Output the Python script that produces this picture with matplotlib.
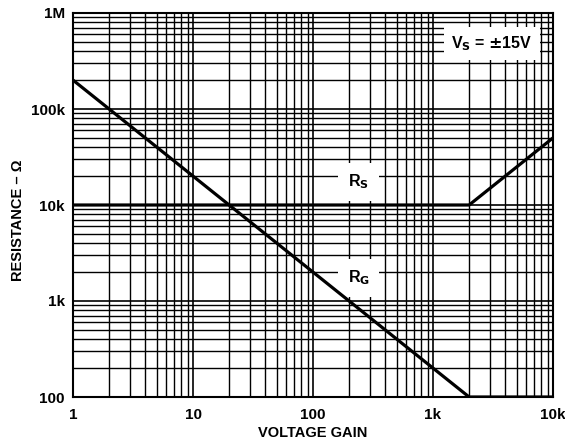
import numpy as np
import matplotlib
matplotlib.use('Agg')
from matplotlib import pyplot as plt

plt.rcParams['font.family'] = ['Liberation Sans', 'DejaVu Sans']
plt.rcParams['font.weight'] = 'bold'

# R_G vs gain: falls as 200k/G down to 100 ohm at G=2000, then flat
gain_rg = [1, 2000, 10000]
res_rg = [200e3, 100, 100]
# R_S vs gain: flat 10k up to G=2000, then rises to 50k
gain_rs = [1, 2000, 10000]
res_rs = [10e3, 10e3, 50e3]

xticks = [1, 10, 100, 1000, 10000]
xlabels = ['1', '10', '100', '1k', '10k']
yticks = [100, 1000, 10000, 100000, 1000000]
ylabels = ['100', '1k', '10k', '100k', '1M']

fig = plt.figure(figsize=(5.65, 4.4), dpi=100)
ax = fig.add_axes([73/565, 43/440, 480/565, 384/440])
ax.set_xscale('log')
ax.set_yscale('log')
ax.set_xlim(1, 10000)
ax.set_ylim(100, 1e6)

ax.grid(True, which='major', color='black', linewidth=1.2)
ax.grid(True, which='minor', color='black', linewidth=1.0)
ax.set_axisbelow(True)

ax.plot(gain_rg, res_rg, color='black', linewidth=2.3, solid_capstyle='butt', zorder=5)
ax.plot(gain_rs, res_rs, color='black', linewidth=2.3, solid_capstyle='butt', zorder=5)

box = dict(facecolor='white', edgecolor='none', pad=7)
ax.text(240, 17.5e3, r'R$_\mathbf{S}$', ha='center', va='center', fontsize=11.5, bbox=box, zorder=3)
ax.text(240, 1.75e3, r'R$_\mathbf{G}$', ha='center', va='center', fontsize=11.5, bbox=box, zorder=3)
ax.text(3100, 4.8e5, r'V$_\mathbf{S}$ = $\pm$15V', ha='center', va='center', fontsize=11.5,
        bbox=dict(facecolor='white', edgecolor='none', pad=5), zorder=3)

ax.set_xticks(xticks)
ax.set_xticklabels(xlabels)
ax.set_yticks(yticks)
ax.set_yticklabels(ylabels)
ax.tick_params(which='both', length=0, labelsize=11)
ax.tick_params(axis='x', pad=8)
ax.tick_params(axis='y', pad=6)
for lab in ax.get_xticklabels() + ax.get_yticklabels():
    lab.set_fontweight('bold')
for s in ax.spines.values():
    s.set_linewidth(1.5)

ax.set_xlabel('VOLTAGE GAIN', fontsize=10.5, fontweight='bold')
ax.set_ylabel('RESISTANCE – Ω', fontsize=10.5, fontweight='bold')
ax.xaxis.set_label_coords(0.5, -0.075)
ax.yaxis.set_label_coords(-0.1, 0.46)

plt.savefig('out.png', dpi=100)
